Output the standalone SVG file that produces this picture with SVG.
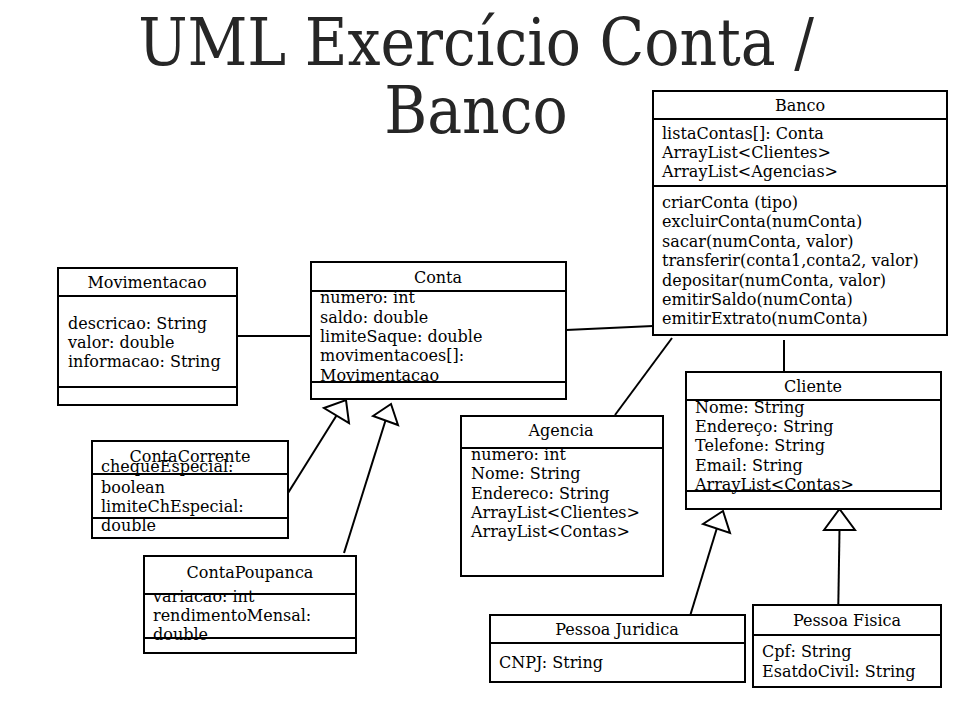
<svg xmlns="http://www.w3.org/2000/svg" width="960" height="720" viewBox="0 0 960 720">
<style>
.box{fill:#fff;stroke:#000;stroke-width:2}
.ln{stroke:#000;stroke-width:2;fill:none}
.tri{fill:#fff;stroke:#000;stroke-width:2;stroke-linejoin:miter}
text{font-family:"DejaVu Serif",serif;font-size:16px;fill:#000}
.c{text-anchor:middle}
.title{font-family:"DejaVu Serif Condensed","DejaVu Serif",serif;font-size:65px;fill:#262626;text-anchor:middle}
</style>
<rect width="960" height="720" fill="#fff"/>
<g id="title">
<text class="title" x="476" y="65">UML Exercício Conta /</text>
<text class="title" x="476" y="133">Banco</text>
</g>
<g id="connectors">
<line class="ln" x1="237" y1="336" x2="311" y2="336"/>
<line class="ln" x1="566" y1="330" x2="653" y2="326"/>
<line class="ln" x1="672" y1="338" x2="615" y2="415"/>
<line class="ln" x1="784" y1="340" x2="784" y2="372"/>
<line class="ln" x1="288" y1="493" x2="336.5" y2="415.5"/>
<polygon class="tri" points="324,408 346,400 349,423"/>
<line class="ln" x1="344" y1="553" x2="385.5" y2="420.5"/>
<polygon class="tri" points="373,416 391,404 398,425"/>
<line class="ln" x1="688.5" y1="621" x2="716.7" y2="528.7"/>
<polygon class="tri" points="703,524 723,511 730,533"/>
<line class="ln" x1="838.3" y1="605" x2="839.5" y2="530"/>
<polygon class="tri" points="824,530 839.5,509 855,530"/>
</g>
<g id="Movimentacao">
<rect class="box" x="58" y="268" width="179" height="137"/>
<line class="ln" x1="58" y1="296" x2="237" y2="296"/>
<line class="ln" x1="58" y1="387" x2="237" y2="387"/>
<text class="c" x="147" y="288">Movimentacao</text>
<text x="68" y="329">descricao: String</text>
<text x="68" y="348">valor: double</text>
<text x="68" y="367">informacao: String</text>
</g>
<g id="Conta">
<rect class="box" x="311" y="262" width="255" height="137"/>
<line class="ln" x1="311" y1="291" x2="566" y2="291"/>
<line class="ln" x1="311" y1="382" x2="566" y2="382"/>
<text class="c" x="438" y="283">Conta</text>
<text x="320" y="303">numero: int</text>
<text x="320" y="323">saldo: double</text>
<text x="320" y="342">limiteSaque: double</text>
<text x="320" y="361">movimentacoes[]:</text>
<text x="320" y="381">Movimentacao</text>
</g>
<g id="Banco">
<rect class="box" x="653" y="91" width="294" height="244"/>
<line class="ln" x1="653" y1="119" x2="947" y2="119"/>
<line class="ln" x1="653" y1="186" x2="947" y2="186"/>
<text class="c" x="800" y="111">Banco</text>
<text x="662" y="139">listaContas[]: Conta</text>
<text x="662" y="158">ArrayList&lt;Clientes&gt;</text>
<text x="662" y="177">ArrayList&lt;Agencias&gt;</text>
<text x="662" y="208">criarConta (tipo)</text>
<text x="662" y="227">excluirConta(numConta)</text>
<text x="662" y="247">sacar(numConta, valor)</text>
<text x="662" y="266">transferir(conta1,conta2, valor)</text>
<text x="662" y="286">depositar(numConta, valor)</text>
<text x="662" y="305">emitirSaldo(numConta)</text>
<text x="662" y="324">emitirExtrato(numConta)</text>
</g>
<g id="Cliente">
<rect class="box" x="686" y="372" width="255" height="137"/>
<line class="ln" x1="686" y1="400" x2="941" y2="400"/>
<line class="ln" x1="686" y1="491" x2="941" y2="491"/>
<text class="c" x="813" y="392">Cliente</text>
<text x="695" y="413">Nome: String</text>
<text x="695" y="432">Endereço: String</text>
<text x="695" y="451">Telefone: String</text>
<text x="695" y="471">Email: String</text>
<text x="695" y="490">ArrayList&lt;Contas&gt;</text>
</g>
<g id="Agencia">
<rect class="box" x="461" y="416" width="202" height="160"/>
<line class="ln" x1="461" y1="448" x2="663" y2="448"/>
<text class="c" x="561" y="436">Agencia</text>
<text x="471" y="460">numero: int</text>
<text x="471" y="479">Nome: String</text>
<text x="471" y="499">Endereco: String</text>
<text x="471" y="518">ArrayList&lt;Clientes&gt;</text>
<text x="471" y="537">ArrayList&lt;Contas&gt;</text>
</g>
<g id="ContaCorrente">
<rect class="box" x="92" y="441" width="196" height="97"/>
<line class="ln" x1="92" y1="474" x2="288" y2="474"/>
<line class="ln" x1="92" y1="518" x2="288" y2="518"/>
<text class="c" x="190" y="462">ContaCorrente</text>
<text x="101" y="472">chequeEspecial:</text>
<text x="101" y="493">boolean</text>
<text x="101" y="512">limiteChEspecial:</text>
<text x="101" y="531">double</text>
</g>
<g id="ContaPoupanca">
<rect class="box" x="144" y="556" width="212" height="97"/>
<line class="ln" x1="144" y1="594" x2="356" y2="594"/>
<line class="ln" x1="144" y1="638" x2="356" y2="638"/>
<text class="c" x="250" y="578">ContaPoupanca</text>
<text x="153" y="602">variacao: int</text>
<text x="153" y="621">rendimentoMensal:</text>
<text x="153" y="640">double</text>
</g>
<g id="PessoaJuridica">
<rect class="box" x="490" y="615" width="255" height="67"/>
<line class="ln" x1="490" y1="643" x2="745" y2="643"/>
<text class="c" x="617" y="635">Pessoa Juridica</text>
<text x="499" y="668">CNPJ: String</text>
</g>
<g id="PessoaFisica">
<rect class="box" x="753" y="605" width="188" height="82"/>
<line class="ln" x1="753" y1="635" x2="941" y2="635"/>
<text class="c" x="847" y="626">Pessoa Fisica</text>
<text x="762" y="657">Cpf: String</text>
<text x="762" y="677">EsatdoCivil: String</text>
</g>
</svg>
